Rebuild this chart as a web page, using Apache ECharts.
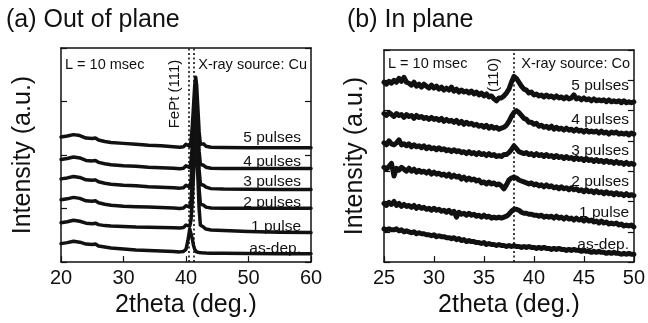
<!DOCTYPE html>
<html><head><meta charset="utf-8">
<script src="https://cdn.jsdelivr.net/npm/echarts@6/dist/echarts.min.js"></script>
<style>html,body{margin:0;padding:0;background:#fff}#c{width:648px;height:323px}</style>
</head><body><div id="c"></div>
<script>
// ---------- Panel (a) Out of plane, X-ray source Cu ----------
const xLeft = [20,21,22,23,24,25,25.5,26,27,28,30,32,34,36,38,39,39.6,40,40.3,40.6,40.8,41,41.2,41.4,41.55,41.7,41.9,42.1,42.3,42.5,42.8,43.2,44,46,50,55,60];
const outPulse5 = [128.5,129.5,131,130,127.5,127,127.5,125.5,124,123,122,121,120,119.5,118.5,118,118.5,121,121,119,124,139,160,182,190,182,158,134,121,123,121.5,119,118,117.7,117.5,117.5,117.5];
const outPulse4 = [105.5,106.5,108,107,104.5,104,104.5,102.5,101,100,99,98.5,97.5,97,96.5,96,96.5,99,99,97,103,119,142,167,176.5,167,140,114,100.5,101.5,99.5,97.5,96.5,96.3,96.3,96.3,96.3];
const outPulse3 = [85.5,86.5,88,87,84.5,84,84.5,82.5,81,80,79,78.5,77.5,77,76.5,76,76.5,79,79,77,83,100,124,150,160,150,122,95,80,81,79,77,75.5,75,74.8,74.7,74.7];
const outPulse2 = [64,65,66.5,65.5,63,62.5,63,61,59.5,58.5,57.5,57,56.5,56,55.5,55.2,55.5,58,58,56.5,63,81,107,134,145.5,134,104,75,59.5,60.5,58.5,56.5,55.5,55.3,55.3,55.3,55.3];
const outPulse1 = [40.5,41.5,43,42,40,39.5,40,38.5,37.5,37,36.5,36,35.8,35.5,35.3,35,35.5,38,38.5,37,43,62,89,118,130,118,87,55,38,38,36,34,33,32.5,31.5,30.8,30.3];
const outAsDep = [19,20,21.5,20.5,18.5,18,18.5,16.5,15.5,14.5,13.5,12.5,12,11.5,11,10.5,11,13,22,34,32,24,17,13,11.5,10.5,10,9.8,9.6,9.5,9.4,9.3,9.2,9,8.8,8.7,8.7];
const refLinesLeft = [40.45, 41.25];   // FePt (111) markers
const xTicksLeft = {min: 20, max: 60, interval: 10};

// ---------- Panel (b) In plane, X-ray source Co ----------
const xRight = [25,25.25,25.5,25.75,26,26.25,26.5,26.75,27,27.25,27.5,27.75,28,28.25,28.5,28.75,29,29.25,29.5,29.75,
30,30.25,30.5,30.75,31,31.25,31.5,31.75,32,32.25,32.5,32.75,33,33.25,33.5,33.75,34,34.25,34.5,34.75,
35,35.25,35.5,35.75,36,36.25,36.5,36.75,37,37.25,37.5,37.75,38,38.25,38.5,38.75,39,39.25,39.5,39.75,
40,40.25,40.5,40.75,41,41.25,41.5,41.75,42,42.25,42.5,42.75,43,43.25,43.5,43.75,44,44.25,44.5,44.75,
45,45.25,45.5,45.75,46,46.25,46.5,46.75,47,47.25,47.5,47.75,48,48.25,48.5,48.75,49,49.25,49.5,49.75,50];
const inPulse5 = [184,182,185,183,186,184,188,185,189,184,183,181,184,180,182,179,182,180,178,181,
178,180,177,179,176,178,176,179,175,177,174,176,174,175,173,175,172,174,171,173,
170,172,169,170,167,165,168,168,170,173,177,184,190,188,184,180,177,176,173,174,
171,172,170,171,169,171,169,170,168,170,168,169,167,169,167,168,171,167,168,166,
168,166,167,165,167,165,166,165,166,164,166,164,165,164,165,163,165,163,164,163,164];
const inPulse4 = [152,150,153,151,149,152,150,151,148,151,149,150,147,150,148,149,147,148,146,148,
146,147,145,147,144,146,144,145,143,145,142,144,141,143,141,142,140,141,139,140,
138,140,137,139,137,138,136,137,138,140,144,149,153,155,153,150,147,146,143,143,
141,142,139,140,138,139,137,139,136,138,136,137,135,137,135,136,134,136,134,135,
133,135,133,134,133,134,132,134,132,133,131,133,132,133,131,132,131,132,130,132,131];
const inPulse3 = [122,120,124,121,120,122,125,120,121,119,121,118,120,118,119,117,119,116,118,116,
117,115,117,115,116,114,115,113,115,113,114,112,113,111,113,111,112,110,112,110,
111,109,111,109,110,108,109,108,110,110,112,115,119,116,113,112,111,112,110,111,
109,111,109,110,108,110,108,109,107,109,107,108,106,108,106,107,105,107,105,106,
104,106,104,105,103,105,103,104,102,104,102,103,101,103,101,102,100,102,100,101,100];
const inPulse2 = [97,95,98,101,88,96,94,97,95,93,96,93,95,92,94,92,93,91,93,90,
92,90,91,89,90,88,90,87,89,87,88,85,87,84,86,84,85,83,84,81,
82,80,82,80,81,79,80,78,75,79,84,86,87,86,84,83,82,81,80,81,
79,80,78,79,77,79,77,78,76,77,75,77,75,76,74,76,74,75,73,74,
72,74,72,73,71,73,71,72,70,72,70,71,69,71,69,70,68,70,68,69,68];
const inPulse1 = [60,58,61,59,62,58,60,57,59,57,58,56,58,55,57,55,56,54,55,53,
55,53,54,52,53,51,53,50,52,46,51,49,50,48,50,48,49,47,48,46,
48,46,47,45,46,45,46,45,46,47,49,52,54,54,53,51,50,50,49,49,
48,48,47,48,46,47,46,47,45,47,45,46,44,46,44,45,43,45,43,44,
42,44,42,43,41,42,40,42,40,41,39,40,39,40,38,39,37,38,37,38,36];
const inAsDep = [34,33,34,33,33,34,32,33,31,32,31,30,31,29,30,29,29,28,28,27,
28,26,27,26,26,25,25,24,25,23,24,22,23,21,22,21,21,20,20,19,
20,18,19,18,18,17,18,17,17,16,17,16,17,16,16,15,16,15,16,15,
15,14,15,14,15,14,14,13,14,13,14,13,13,12,13,12,13,12,12,11,
12,11,11,10,11,10,11,10,10,9,10,9,10,9,9,8,9,8,9,8,8];
const refLinesRight = [38];            // (110) marker
const xTicksRight = {min: 25, max: 50, interval: 5};

const seriesNames = ['5 pulses','4 pulses','3 pulses','2 pulses','1 pulse','as-dep.'];
const leftSets = [outPulse5, outPulse4, outPulse3, outPulse2, outPulse1, outAsDep];
const rightSets = [inPulse5, inPulse4, inPulse3, inPulse2, inPulse1, inAsDep];

const FONT = '"Liberation Sans", Arial, Helvetica, sans-serif';
const INK = '#111';

function xAx(grid, t, pos) {
  const main = pos === 'bottom';
  return {
    gridIndex: grid, type: 'value', position: pos, min: t.min, max: t.max, interval: t.interval,
    axisLine: {show: true, onZero: false, lineStyle: {color: INK, width: 1.5}},
    axisTick: {show: main, inside: true, length: 6, lineStyle: {color: INK, width: 1.2}},
    axisLabel: {show: main, color: INK, fontSize: 20, fontFamily: FONT, margin: 6},
    splitLine: {show: false},
    name: main ? '2theta (deg.)' : '', nameLocation: 'middle', nameGap: 24,
    nameTextStyle: {color: INK, fontSize: 25, fontFamily: FONT}
  };
}
function yAx(grid, max, interval, pos, gap) {
  const main = pos === 'left';
  return {
    gridIndex: grid, type: 'value', position: pos, min: 0, max: max, interval: interval,
    axisLine: {show: true, onZero: false, lineStyle: {color: INK, width: 1.5}},
    axisTick: {show: true, inside: true, length: 6, lineStyle: {color: INK, width: 1.2}},
    axisLabel: {show: false}, splitLine: {show: false},
    name: main ? 'Intensity (a.u.)' : '', nameLocation: 'middle', nameGap: gap, nameRotate: 90,
    nameTextStyle: {color: INK, fontSize: 25, fontFamily: FONT}
  };
}

const series = [];
leftSets.forEach((arr, k) => {
  const s = {
    name: 'a ' + seriesNames[k], type: 'line', xAxisIndex: 0, yAxisIndex: 0,
    data: xLeft.map((x, i) => [x, arr[i]]), showSymbol: false, symbol: 'none',
    lineStyle: {color: INK, width: 3.5, join: 'round', cap: 'round'}, z: 3
  };
  if (k === 0) s.markLine = {silent: true, symbol: ['none','none'], label: {show: false},
    lineStyle: {type: [2, 2.5], width: 1.6, color: INK}, data: refLinesLeft.map(v => ({xAxis: v}))};
  series.push(s);
});
rightSets.forEach((arr, k) => {
  const s = {
    name: 'b ' + seriesNames[k], type: 'line', xAxisIndex: 2, yAxisIndex: 2,
    data: xRight.map((x, i) => [x, arr[i]]), showSymbol: false, symbol: 'none',
    lineStyle: {color: INK, width: 5, join: 'round', cap: 'round'}, z: 3
  };
  if (k === 0) s.markLine = {silent: true, symbol: ['none','none'], label: {show: false},
    lineStyle: {type: [2, 2.5], width: 1.6, color: INK}, data: refLinesRight.map(v => ({xAxis: v}))};
  series.push(s);
});

const leftLabelY = [138, 162, 182, 203, 227, 249];
const rightLabelY = [86, 119.5, 150.5, 181.5, 213, 245];
const txt = (text, x, y, size, align, rot) => ({
  type: 'text', x: x, y: y, rotation: rot || 0, z: 10,
  style: {text: text, fill: INK, font: size + 'px ' + FONT, align: align, verticalAlign: 'middle'}
});
const graphic = [];
seriesNames.forEach((n, k) => {
  graphic.push(txt(n, 301, leftLabelY[k], 15.5, 'right'));
  graphic.push(txt(n, 629, rightLabelY[k], 15.5, 'right'));
});
graphic.push(txt('L = 10 msec', 65, 65, 14.5, 'left'));
graphic.push(txt('X-ray source: Cu', 307, 65, 14.5, 'right'));
graphic.push(txt('FePt (111)', 175, 94, 15, 'center', Math.PI / 2));
graphic.push(txt('L = 10 msec', 388, 64, 14.5, 'left'));
graphic.push(txt('X-ray source: Co', 630, 64, 14.5, 'right'));
graphic.push(txt('(110)', 494, 75, 15, 'center', Math.PI / 2));

const chart = echarts.init(document.getElementById('c'), null, {renderer: 'canvas'});
chart.setOption({
  animation: false,
  backgroundColor: '#fff',
  title: [
    {text: '(a) Out of plane', left: 6, top: 8, padding: 0, textStyle: {fontSize: 25, fontWeight: 'normal', color: INK, fontFamily: FONT}},
    {text: '(b) In plane', left: 347, top: 8, padding: 0, textStyle: {fontSize: 25, fontWeight: 'normal', color: INK, fontFamily: FONT}}
  ],
  grid: [
    {left: 61, right: 337, top: 48, height: 219},
    {left: 384, right: 13, top: 50, height: 217}
  ],
  xAxis: [xAx(0, xTicksLeft, 'bottom'), xAx(0, xTicksLeft, 'top'), xAx(1, xTicksRight, 'bottom'), xAx(1, xTicksRight, 'top')],
  yAxis: [yAx(0, 220, 55, 'left', 25), yAx(0, 220, 55, 'right', 0), yAx(1, 217, 31, 'left', 16), yAx(1, 217, 31, 'right', 0)],
  series: series,
  graphic: graphic
});
</script></body></html>
